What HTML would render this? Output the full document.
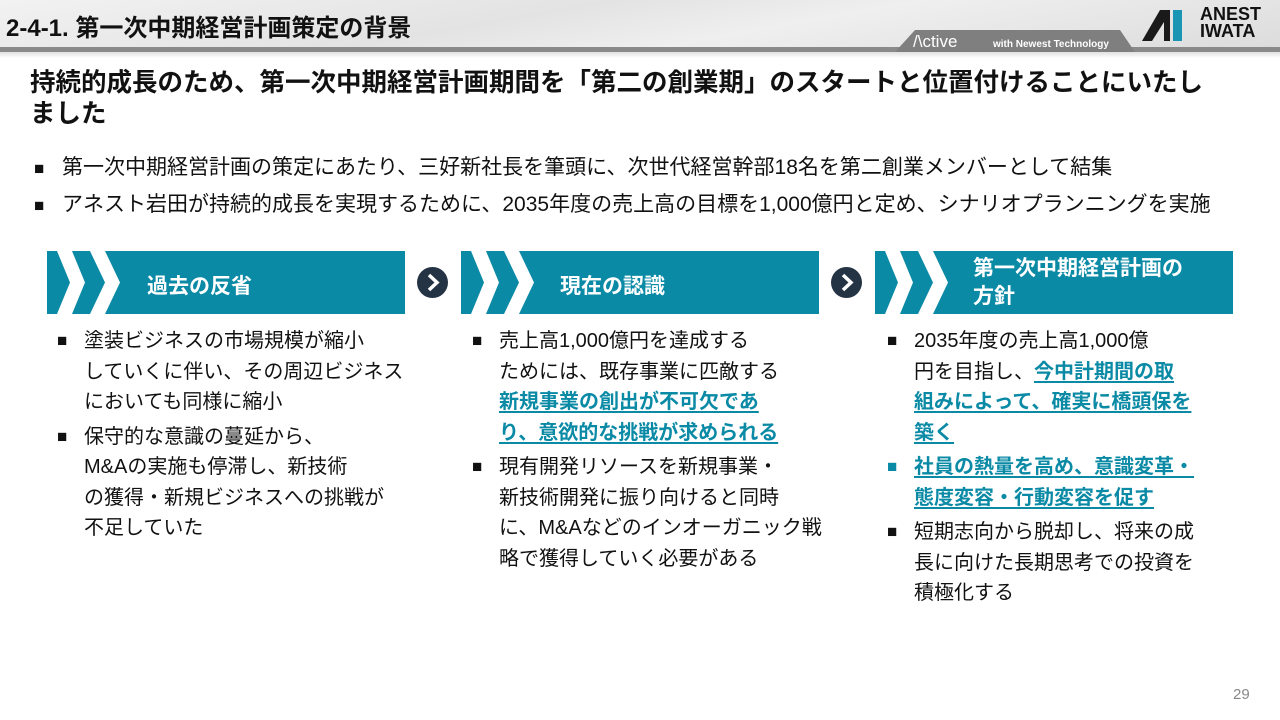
<!DOCTYPE html>
<html><head><meta charset="utf-8"><style>
*{margin:0;padding:0;box-sizing:border-box}
body{width:1280px;height:720px;position:relative;background:#fff;font-family:"Liberation Sans","Noto Sans CJK JP",sans-serif;color:#111;overflow:hidden}
.hdr{position:absolute;left:0;top:0;width:1280px;height:47px;background:linear-gradient(170deg,#f2f2f2 0%,#e3e3e3 40%,#efefef 60%,#dcdcdc 100%)}
.bar{position:absolute;left:0;top:47px;width:1280px;height:5px;background:#8a8a8a}
.bar2{position:absolute;left:0;top:52px;width:1280px;height:6px;background:linear-gradient(#e0e0e0,#fff)}
.title{position:absolute;left:6px;top:8px;font-size:24px;font-weight:bold}
.abs{position:absolute}
.lead{left:30px;top:68px;font-size:25.5px;font-weight:bold;line-height:31px;width:1250px;white-space:nowrap}
.b{position:absolute;left:34px;font-size:21px}
.b span{display:inline-block;width:28px;font-size:17px}
.box{position:absolute;top:251px;height:63px;background:#0b8aa6;color:#fff;font-weight:bold;font-size:21px}
.col{position:absolute;top:326px;font-size:20px;line-height:30.5px}
.col .it{position:relative;padding-left:27px;margin-bottom:4px}
.col .it:before{content:"■";position:absolute;left:0;top:0;font-size:17px}
.col .tl:before{color:#0b8aa6}
u{color:#0b8aa6;font-weight:bold;text-decoration:underline;text-underline-offset:3px}
.arr{position:absolute;top:267px;width:31px;height:31px;border-radius:50%;background:#253444}
</style></head><body>
<div class="hdr"></div><div class="bar"></div><div class="bar2"></div>
<div class="title">2-4-1. 第一次中期経営計画策定の背景</div>
<svg class="abs" style="left:895px;top:28px" width="240" height="24"><polygon points="20,2 225,2 240,24 0,24" fill="#7f7f7f"/>
<text x="18" y="19" fill="#fff" font-family="Liberation Sans" font-size="17">/\ctive</text><text x="98" y="19" fill="#fff" font-family="Liberation Sans" font-size="10" font-weight="bold">with Newest Technology</text></svg>
<svg class="abs" style="left:1140px;top:8px" width="60" height="34"><polygon points="2,33 20,2 30,2 30,33 24,33 24,14 12,33" fill="#1a1a1a"/><rect x="33" y="2" width="9" height="31" fill="#1b95b4"/></svg>
<div class="abs" style="left:1200px;top:6px;font-size:18px;font-weight:bold;line-height:17px;color:#111">ANEST<br>IWATA</div>
<div class="abs lead">持続的成長のため、第一次中期経営計画期間を「第二の創業期」のスタートと位置付けることにいたし<br>ました</div>
<div class="b" style="top:151px"><span>■</span>第一次中期経営計画の策定にあたり、三好新社長を筆頭に、次世代経営幹部18名を第二創業メンバーとして結集</div>
<div class="b" style="top:188px"><span>■</span>アネスト岩田が持続的成長を実現するために、2035年度の売上高の目標を1,000億円と定め、シナリオプランニングを実施</div>

<div class="box" style="left:47px;width:358px"><svg class="abs" style="left:0;top:0" width="80" height="63"><polygon points="10,0 25,0 38,31.5 25,63 10,63 23,31.5" fill="#fff"/><polygon points="43,0 58,0 73,31.5 58,63 43,63 58,31.5" fill="#fff"/></svg><div class="abs" style="left:100px;top:19px">過去の反省</div></div>
<div class="box" style="left:461px;width:358px"><svg class="abs" style="left:0;top:0" width="80" height="63"><polygon points="10,0 25,0 38,31.5 25,63 10,63 23,31.5" fill="#fff"/><polygon points="43,0 58,0 73,31.5 58,63 43,63 58,31.5" fill="#fff"/></svg><div class="abs" style="left:99px;top:19px">現在の認識</div></div>
<div class="box" style="left:875px;width:358px"><svg class="abs" style="left:0;top:0" width="80" height="63"><polygon points="10,0 25,0 38,31.5 25,63 10,63 23,31.5" fill="#fff"/><polygon points="43,0 58,0 73,31.5 58,63 43,63 58,31.5" fill="#fff"/></svg><div class="abs" style="left:98px;top:4px;line-height:28px">第一次中期経営計画の<br>方針</div></div>
<div class="arr" style="left:417px"><svg width="31" height="31"><polyline points="12,8 20,15.5 12,23" fill="none" stroke="#fff" stroke-width="3.5"/></svg></div>
<div class="arr" style="left:831px"><svg width="31" height="31"><polyline points="12,8 20,15.5 12,23" fill="none" stroke="#fff" stroke-width="3.5"/></svg></div>

<div class="col" style="left:57px">
<div class="it">塗装ビジネスの市場規模が縮小<br>していくに伴い、その周辺ビジネス<br>においても同様に縮小</div>
<div class="it">保守的な意識の蔓延から、<br>M&amp;Aの実施も停滞し、新技術<br>の獲得・新規ビジネスへの挑戦が<br>不足していた</div>
</div>
<div class="col" style="left:472px">
<div class="it">売上高1,000億円を達成する<br>ためには、既存事業に匹敵する<br><u>新規事業の創出が不可欠であ<br>り、意欲的な挑戦が求められる</u></div>
<div class="it">現有開発リソースを新規事業・<br>新技術開発に振り向けると同時<br>に、M&amp;Aなどのインオーガニック戦<br>略で獲得していく必要がある</div>
</div>
<div class="col" style="left:887px">
<div class="it">2035年度の売上高1,000億<br>円を目指し、<u>今中計期間の取<br>組みによって、確実に橋頭保を<br>築く</u></div>
<div class="it tl"><u>社員の熱量を高め、意識変革・<br>態度変容・行動変容を促す</u></div>
<div class="it">短期志向から脱却し、将来の成<br>長に向けた長期思考での投資を<br>積極化する</div>
</div>
<div class="abs" style="left:1233px;top:686px;font-size:15px;color:#888">29</div>
</body></html>
